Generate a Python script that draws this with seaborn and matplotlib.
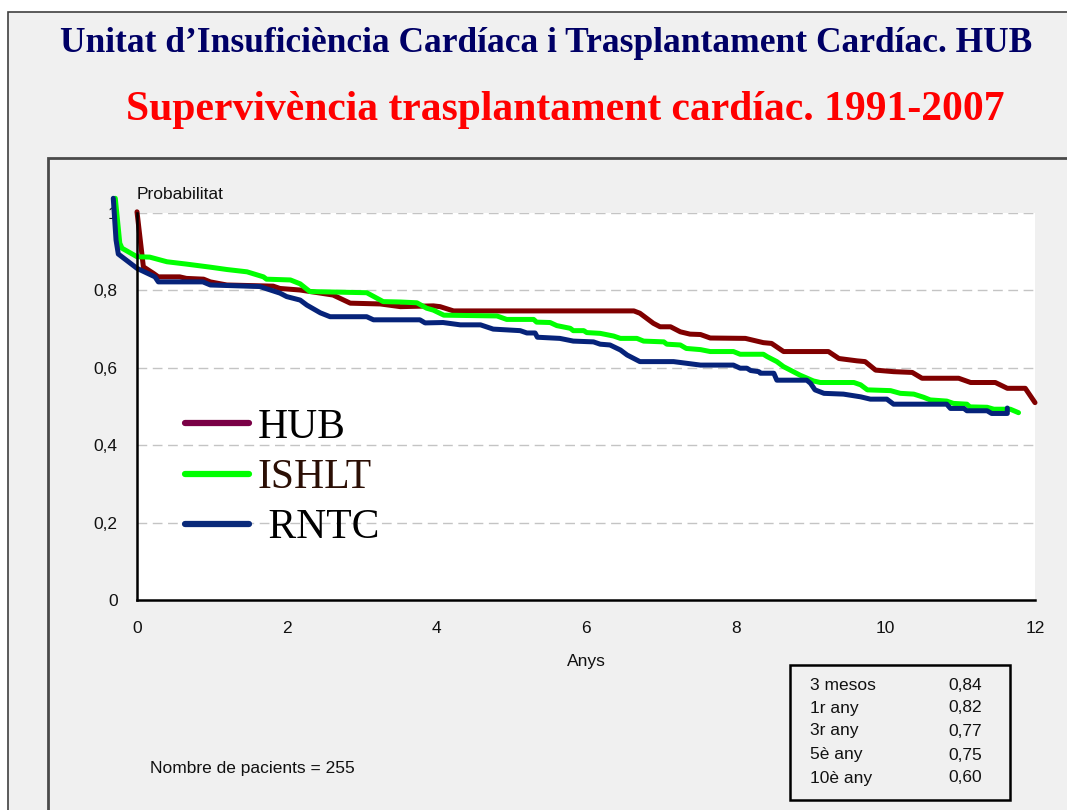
import matplotlib
matplotlib.use("Agg")
import matplotlib.pyplot as plt
from matplotlib.patches import Rectangle
from matplotlib.lines import Line2D
import numpy as np
import pandas as pd
import seaborn as sns

# ---------------- data ----------------
series_names = ["HUB", "ISHLT", "RNTC"]

hub_x = [0.0, 0.085, 0.22, 0.285, 0.57, 0.66, 0.89, 0.98, 1.20, 1.82, 1.91, 2.18, 2.62, 2.85,
         3.25, 3.52, 3.96, 4.05, 4.23, 6.64, 6.72, 6.90, 6.99, 7.13, 7.26, 7.39, 7.53, 7.66,
         8.13, 8.37, 8.48, 8.64, 9.24, 9.38, 9.62, 9.73, 9.87, 10.11, 10.36, 10.49, 10.98,
         11.14, 11.47, 11.63, 11.87, 12.0]
hub_y = [1.003, 0.861, 0.844, 0.835, 0.835, 0.831, 0.829, 0.822, 0.814, 0.811, 0.805, 0.801,
         0.788, 0.767, 0.765, 0.758, 0.760, 0.758, 0.747, 0.747, 0.741, 0.715, 0.706, 0.706,
         0.693, 0.687, 0.686, 0.677, 0.676, 0.665, 0.663, 0.642, 0.642, 0.624, 0.618, 0.616,
         0.594, 0.590, 0.588, 0.573, 0.573, 0.562, 0.562, 0.547, 0.547, 0.510]

ishlt_x = [-0.29, -0.23, -0.20, 0.0, 0.17, 0.40, 0.66, 0.98, 1.20, 1.47, 1.69, 1.73, 2.05,
           2.18, 2.31, 3.07, 3.29, 3.52, 3.74, 3.87, 3.96, 4.10, 4.81, 4.94, 5.30, 5.34, 5.52,
           5.61, 5.79, 5.83, 5.97, 6.01, 6.19, 6.37, 6.46, 6.68, 6.77, 7.04, 7.08, 7.26, 7.34,
           7.53, 7.66, 7.97, 8.06, 8.37, 8.42, 8.55, 8.64, 8.86, 9.04, 9.13, 9.58, 9.67, 9.76,
           10.07, 10.20, 10.38, 10.51, 10.60, 10.82, 10.91, 11.09, 11.13, 11.36, 11.45, 11.67,
           11.78]
ishlt_y = [1.038, 0.922, 0.909, 0.887, 0.886, 0.874, 0.868, 0.860, 0.854, 0.848, 0.835, 0.829,
           0.827, 0.817, 0.797, 0.794, 0.771, 0.770, 0.768, 0.754, 0.749, 0.736, 0.734, 0.725,
           0.725, 0.718, 0.717, 0.709, 0.702, 0.696, 0.696, 0.691, 0.689, 0.682, 0.676, 0.676,
           0.669, 0.667, 0.661, 0.659, 0.650, 0.647, 0.642, 0.642, 0.635, 0.635, 0.629, 0.616,
           0.603, 0.581, 0.566, 0.562, 0.562, 0.556, 0.543, 0.541, 0.534, 0.532, 0.524, 0.517,
           0.514, 0.508, 0.506, 0.499, 0.498, 0.493, 0.493, 0.484]

rntc_x = [-0.317, -0.28, -0.25, 0.0, 0.24, 0.285, 0.88, 0.98, 1.64, 1.91, 2.0, 2.18, 2.27,
          2.45, 2.58, 3.07, 3.16, 3.78, 3.85, 4.09, 4.32, 4.59, 4.76, 5.12, 5.21, 5.32, 5.35,
          5.65, 5.83, 6.10, 6.19, 6.32, 6.46, 6.55, 6.72, 7.17, 7.53, 7.97, 8.06, 8.15, 8.20,
          8.31, 8.33, 8.51, 8.55, 8.95, 9.00, 9.06, 9.18, 9.44, 9.67, 9.80, 10.02, 10.11,
          10.82, 10.87, 11.05, 11.09, 11.36, 11.42, 11.63, 11.63]
rntc_y = [1.038, 0.930, 0.894, 0.857, 0.835, 0.822, 0.822, 0.814, 0.810, 0.793, 0.784, 0.775,
          0.762, 0.742, 0.732, 0.732, 0.724, 0.724, 0.716, 0.717, 0.711, 0.711, 0.700, 0.696,
          0.690, 0.690, 0.679, 0.676, 0.669, 0.667, 0.661, 0.659, 0.646, 0.633, 0.616, 0.616,
          0.607, 0.607, 0.599, 0.599, 0.593, 0.590, 0.586, 0.586, 0.568, 0.568, 0.560, 0.543,
          0.534, 0.532, 0.525, 0.519, 0.519, 0.506, 0.506, 0.495, 0.495, 0.489, 0.489, 0.482,
          0.482, 0.496]

y_ticks = [0, 0.2, 0.4, 0.6, 0.8, 1.0]
y_tick_labels = ["0", "0,2", "0,4", "0,6", "0,8", "1"]
x_ticks = [0, 2, 4, 6, 8, 10, 12]
x_tick_labels = ["0", "2", "4", "6", "8", "10", "12"]

stat_labels = ["3 mesos", "1r any", "3r any", "5è any", "10è any"]
stat_values = ["0,84", "0,82", "0,77", "0,75", "0,60"]

title1 = "Unitat d\u2019Insuficiència Cardíaca i Trasplantament Cardíac. HUB"
title2 = "Supervivència trasplantament cardíac. 1991-2007"
note = "Nombre de pacients = 255"

# ---------------- style ----------------
W, H = 1067, 810
sns.set_theme(style="white")
sans = ["Liberation Sans", "DejaVu Sans"]
plt.rcParams["font.family"] = sans
FS = 12.5

colors = {"HUB": "#800000", "ISHLT": "#00ff00", "RNTC": "#06237a"}
legend_colors = {"HUB": "#7a0046", "ISHLT": "#00ff00", "RNTC": "#0a2a7a"}

fig = plt.figure(figsize=(W / 100, H / 100), dpi=100, facecolor="white")

# outer and inner frames (behind the axes)
fig.patches.append(Rectangle((8 / W, -0.05), 1.1, 1 - 12 / H + 0.05, transform=fig.transFigure,
                             facecolor="#f0f0f0", edgecolor="#404040", lw=1.2, zorder=-10))
fig.patches.append(Rectangle((48 / W, -0.05), 1.1, 1 - 158 / H + 0.05, transform=fig.transFigure,
                             facecolor="#f0f0f0", edgecolor="#4a4a4a", lw=2.0, zorder=-9))

fig.text(546 / W, 1 - 43 / H, title1, ha="center", va="center", color="#000066",
         family="Liberation Serif", weight="bold", fontsize=25.5)
fig.text(565 / W, 1 - 110 / H, title2, ha="center", va="center", color="#ff0000",
         family="Liberation Serif", weight="bold", fontsize=30)

ax = fig.add_axes([137 / W, 1 - 600 / H, 898 / W, 387 / H])
ax.set_facecolor("white")
ax.set_zorder(1)

df = pd.concat([
    pd.DataFrame({"x": hub_x, "y": hub_y, "serie": "HUB"}),
    pd.DataFrame({"x": ishlt_x, "y": ishlt_y, "serie": "ISHLT"}),
    pd.DataFrame({"x": rntc_x, "y": rntc_y, "serie": "RNTC"}),
], ignore_index=True)

sns.lineplot(data=df, x="x", y="y", hue="serie", hue_order=series_names, palette=colors,
             sort=False, estimator=None, lw=3.6, legend=False, ax=ax)
for ln in ax.lines:
    ln.set_clip_on(False)
    ln.set_solid_capstyle("round")
    ln.set_solid_joinstyle("round")
    ln.set_zorder(5)

ax.set_xlim(0, 12)
ax.set_ylim(0, 1)
ax.set_xticks(x_ticks)
ax.set_xticklabels(x_tick_labels)
ax.set_yticks(y_ticks)
ax.set_yticklabels(y_tick_labels)
ax.tick_params(axis="both", length=0, labelsize=FS, colors="#111111")
ax.tick_params(axis="y", pad=14)
ax.tick_params(axis="x", pad=15)
ax.set_xlabel("")
ax.set_ylabel("")

for yv in y_ticks[1:]:
    ax.axhline(yv, color="#c4c4c4", lw=1.0, ls=(0, (7, 4)), zorder=1)

for s in ["top", "right"]:
    ax.spines[s].set_visible(False)
for s in ["left", "bottom"]:
    ax.spines[s].set_color("black")
    ax.spines[s].set_linewidth(1.8)
    ax.spines[s].set_zorder(6)

ax.text(0.0, 1.047, "Probabilitat", transform=ax.transAxes, ha="left", va="center",
        fontsize=FS, color="#111111")
ax.text(0.5, -0.16, "Anys", transform=ax.transAxes, ha="center", va="center",
        fontsize=FS, color="#111111")

handles = [Line2D([0], [0], color=legend_colors[n], lw=4.5, solid_capstyle="round")
           for n in series_names]
leg = ax.legend(handles, ["HUB", "ISHLT", " RNTC"], loc="upper left",
                bbox_to_anchor=(0.053, 0.495), frameon=False,
                prop={"family": "Liberation Serif", "size": 30},
                handlelength=1.55, handletextpad=0.2, labelspacing=0.28,
                borderpad=0, borderaxespad=0)
for t, c in zip(leg.get_texts(), ["black", "#2b0f05", "black"]):
    t.set_color(c)

fig.text(150 / W, 1 - 768 / H, note, ha="left", va="center", fontsize=FS, color="#111111")

fig.patches.append(Rectangle((790 / W, 1 - 800 / H), 220 / W, 135 / H, transform=fig.transFigure,
                             facecolor="none", edgecolor="black", lw=1.8, zorder=3))
row_y = [685, 708, 731, 755, 778]
for lab, val, yy in zip(stat_labels, stat_values, row_y):
    fig.text(810 / W, 1 - yy / H, lab, ha="left", va="center", fontsize=FS, color="#111111")
    fig.text(948 / W, 1 - yy / H, val, ha="left", va="center", fontsize=FS, color="#111111")

fig.savefig("out.png", dpi=100, facecolor="white")
